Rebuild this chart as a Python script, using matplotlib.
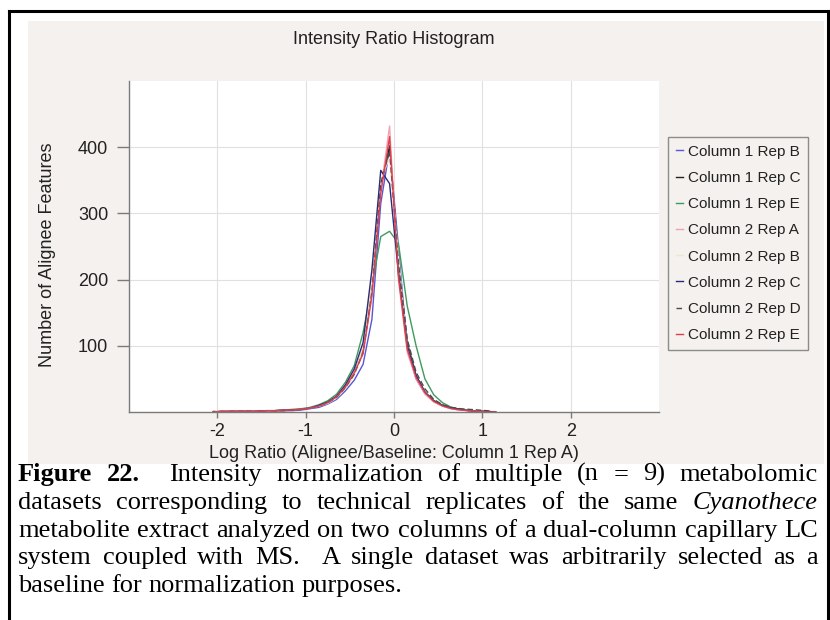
import numpy as np
import matplotlib
matplotlib.use("Agg")
import matplotlib.pyplot as plt
from matplotlib.patches import Rectangle
from matplotlib.lines import Line2D

# Histogram bin centres (log ratio)
bins = [-2.05, -1.95, -1.85, -1.75, -1.65, -1.55, -1.45, -1.35, -1.25, -1.15,
        -1.05, -0.95, -0.85, -0.75, -0.65, -0.55, -0.45, -0.35, -0.25, -0.15,
        -0.05, 0.05, 0.15, 0.25, 0.35, 0.45, 0.55, 0.65, 0.75, 0.85,
        0.95, 1.05, 1.15]

# Counts of alignee features per bin, one list per dataset
col1_rep_b = [0, 0, 1, 0, 1, 1, 1, 1, 2, 2, 3, 5, 7, 12, 19, 32, 48, 72, 140, 315,
              397, 250, 95, 50, 28, 16, 9, 5, 3, 2, 1, 0, 0]
col1_rep_c = [0, 1, 0, 1, 1, 1, 1, 2, 2, 3, 4, 6, 9, 14, 22, 36, 58, 95, 190, 340,
              402, 230, 105, 55, 30, 17, 10, 6, 4, 2, 1, 1, 0]
col1_rep_e = [0, 0, 1, 1, 1, 1, 2, 2, 3, 4, 5, 7, 11, 17, 27, 45, 70, 120, 190, 265,
              273, 255, 160, 100, 50, 26, 14, 7, 4, 2, 1, 0, 0]
col2_rep_a = [0, 1, 1, 1, 1, 2, 2, 2, 3, 3, 4, 6, 9, 14, 23, 39, 60, 92, 185, 335,
              432, 200, 90, 50, 27, 15, 9, 5, 3, 2, 1, 0, 0]
col2_rep_b = [0, 0, 1, 1, 1, 1, 1, 2, 2, 3, 4, 6, 9, 13, 21, 35, 55, 100, 200, 350,
              385, 235, 100, 52, 29, 16, 9, 5, 3, 2, 1, 0, 0]
col2_rep_c = [0, 1, 1, 1, 1, 1, 2, 2, 3, 3, 4, 6, 10, 15, 24, 41, 65, 105, 215, 365,
              345, 210, 100, 55, 30, 17, 10, 6, 4, 2, 1, 1, 0]
col2_rep_d = [1, 0, 1, 1, 1, 1, 2, 2, 2, 3, 4, 6, 9, 14, 22, 37, 57, 90, 180, 345,
              395, 225, 110, 60, 35, 19, 11, 7, 5, 4, 3, 2, 0]
col2_rep_e = [0, 1, 1, 1, 1, 1, 2, 2, 3, 3, 4, 6, 9, 14, 23, 38, 59, 88, 175, 330,
              416, 205, 95, 52, 29, 16, 9, 5, 3, 2, 1, 0, 0]

labels = ["Column 1 Rep B", "Column 1 Rep C", "Column 1 Rep E", "Column 2 Rep A",
          "Column 2 Rep B", "Column 2 Rep C", "Column 2 Rep D", "Column 2 Rep E"]
series = [col1_rep_b, col1_rep_c, col1_rep_e, col2_rep_a,
          col2_rep_b, col2_rep_c, col2_rep_d, col2_rep_e]
colors = ["#5656d6", "#222222", "#3f9a5e", "#f2a3b3",
          "#efe6d2", "#2b2b7a", "#4a4a4a", "#e0404e"]
styles = ["-", "-", "-", "-", "-", "-", (0, (4, 2)), "-"]

xticks = [-2, -1, 0, 1, 2]
yticks = [100, 200, 300, 400]

caption = [
    [("Figure", "bold"), ("22.", "bold"), ("", None), ("Intensity", None),
     ("normalization", None), ("of", None), ("multiple", None), ("(n", None),
     ("=", None), ("9)", None), ("metabolomic", None)],
    [("datasets", None), ("corresponding", None), ("to", None), ("technical", None),
     ("replicates", None), ("of", None), ("the", None), ("same", None),
     ("Cyanothece", "italic")],
    [("metabolite", None), ("extract", None), ("analyzed", None), ("on", None),
     ("two", None), ("columns", None), ("of", None), ("a", None),
     ("dual-column", None), ("capillary", None), ("LC", None)],
    [("system", None), ("coupled", None), ("with", None), ("MS.", None), ("", None),
     ("A", None), ("single", None), ("dataset", None), ("was", None),
     ("arbitrarily", None), ("selected", None), ("as", None), ("a", None)],
    [("baseline", None), ("for", None), ("normalization", None), ("purposes.", None)],
]

W, H = 830, 620
sans = ["Liberation Sans", "DejaVu Sans"]
serif = ["Liberation Serif", "DejaVu Serif"]
panel = "#f4f1ee"
txt = "#222222"

fig = plt.figure(figsize=(W / 100, H / 100), dpi=100)

# grey chart panel and the black frame round the figure
fig.patches.append(Rectangle((28 / W, 1 - 464 / H), (824 - 28) / W, (464 - 21) / H,
                             transform=fig.transFigure, facecolor=panel,
                             edgecolor="none", zorder=-5))
for xs, ys in [([9, 9], [11, H + 5]), ([9, 828], [11, 11]), ([828, 828], [11, H + 5])]:
    fig.lines.append(Line2D([x / W for x in xs], [1 - y / H for y in ys],
                            transform=fig.transFigure, color="black", lw=2.2,
                            zorder=-4))

ax = fig.add_axes([129 / W, 1 - 412 / H, 530 / W, 331 / H])
ax.set_facecolor("white")

for vals, lab, col, ls in zip(series, labels, colors, styles):
    ax.plot(bins, vals, color=col, lw=1.0, ls=ls, label=lab)

ax.set_xlim(-3, 3)
ax.set_ylim(0, 500)
ax.set_xticks(xticks)
ax.set_yticks(yticks)
ax.set_xticklabels([str(v) for v in xticks])
ax.grid(True, color="#e0e0e0", lw=0.8)
ax.set_axisbelow(True)
for s in ["top", "right"]:
    ax.spines[s].set_visible(False)
for s in ["left", "bottom"]:
    ax.spines[s].set_color("#7a7a7a")
    ax.spines[s].set_linewidth(1.0)
ax.tick_params(axis="y", length=9, width=1, color="#7a7a7a", pad=6,
               labelsize=13, labelcolor=txt)
ax.tick_params(axis="x", length=4, width=1, color="#7a7a7a", pad=4,
               labelsize=13, labelcolor=txt)
for t in ax.get_xticklabels() + ax.get_yticklabels():
    t.set_family(sans)

leg = ax.legend(loc="upper left", bbox_to_anchor=(668 / W, 1 - 137 / H),
                bbox_transform=fig.transFigure, borderaxespad=0, fancybox=False,
                framealpha=1, facecolor=panel, edgecolor="#8c8c8c",
                handlelength=0.45, handletextpad=0.35, labelspacing=0.8,
                borderpad=0.5, prop={"family": sans, "size": 11})
leg.get_frame().set_linewidth(1.0)
for t in leg.get_texts():
    t.set_color(txt)

fig.text(394 / W, 1 - 40 / H, "Intensity Ratio Histogram", ha="center", va="center",
         fontsize=13, family=sans, color=txt)
fig.text(47 / W, 1 - 255 / H, "Number of Alignee Features", ha="center", va="center",
         rotation=90, fontsize=13, family=sans, color=txt)
fig.text(394 / W, 1 - 453 / H, "Log Ratio (Alignee/Baseline: Column 1 Rep A)",
         ha="center", va="center", fontsize=13, family=sans, color=txt)

# justified caption, drawn word by word
cap_fs = 19
left, right = 18, 818
base_y = [481, 509, 537, 564, 592]
renderer = fig.canvas.get_renderer()
for i, words in enumerate(caption):
    objs = []
    for w, st in words:
        kw = {}
        if st == "bold":
            kw["fontweight"] = "bold"
        if st == "italic":
            kw["fontstyle"] = "italic"
        objs.append(fig.text(0, 1 - base_y[i] / H, w, fontsize=cap_fs, family=serif,
                             va="baseline", ha="left", color="black", **kw))
    widths = [o.get_window_extent(renderer).width if o.get_text() else 0 for o in objs]
    ngaps = len(objs) - 1
    if i < len(caption) - 1:
        gap = (right - left - sum(widths)) / ngaps
    else:
        gap = cap_fs * 100 / 72 * 0.25
    x = left
    for o, wd in zip(objs, widths):
        o.set_x(x / W)
        x += wd + gap

fig.savefig("out.png", dpi=100, facecolor="white")
